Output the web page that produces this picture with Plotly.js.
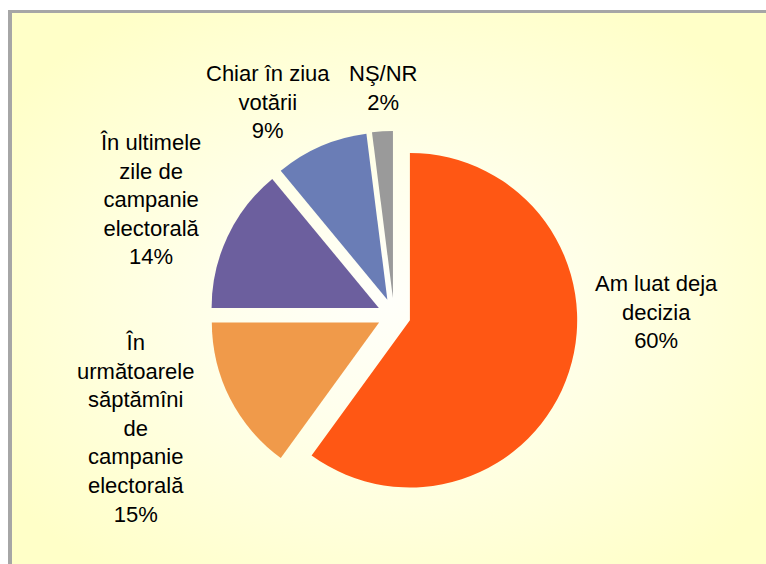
<!DOCTYPE html>
<html>
<head>
<meta charset="utf-8">
<script src="https://cdn.plot.ly/plotly-3.0.1.min.js"></script>
<style>html,body{margin:0;padding:0;background:#fff;}#chart{width:766px;height:564px;}</style>
</head>
<body>
<div id="chart"></div>
<script>
// Data
const labels = [
  "Am luat deja<br>decizia",
  "În<br>următoarele<br>săptămîni<br>de<br>campanie<br>electorală",
  "În ultimele<br>zile de<br>campanie<br>electorală",
  "Chiar în ziua<br>votării",
  "NŞ/NR"
];
const values = [60, 15, 14, 9, 2];
const colors = ["#FF5714", "#F09A4A", "#6C5F9E", "#6A7DB6", "#9A9A9A"];

// label block centres (layout, px)
const labelPos = [[656, 312], [135, 428], [150, 199], [268, 102], [383, 88]];

const W = 766, H = 564;
const px = x => x / W, py = y => 1 - y / H;

const grad = '<svg xmlns="http://www.w3.org/2000/svg" width="754" height="551" viewBox="0 0 754 551" preserveAspectRatio="none">' +
  '<defs><radialGradient id="g" cx="0.5" cy="0.52" r="0.62">' +
  '<stop offset="0" stop-color="#FFFFFA"/><stop offset="0.35" stop-color="#FFFFEC"/><stop offset="1" stop-color="#FFFFC8"/>' +
  '</radialGradient></defs><rect width="754" height="551" fill="url(#g)"/></svg>';

const trace = {
  type: "pie",
  labels: labels,
  values: values,
  sort: false,
  direction: "clockwise",
  rotation: 0,
  pull: values.map(() => 0.1),
  marker: {colors: colors, line: {width: 0}},
  textinfo: "none",
  hoverinfo: "skip",
  showlegend: false,
  domain: {x: [px(210), px(578)], y: [py(499), py(131)]}
};

const annotations = labels.map((l, i) => ({
  text: l + "<br>" + values[i] + "%",
  xref: "paper", yref: "paper",
  x: px(labelPos[i][0]), y: py(labelPos[i][1]),
  xanchor: "center", yanchor: "middle",
  showarrow: false, align: "center",
  font: {family: "Liberation Sans, Arial, sans-serif", size: 22, color: "#000"}
}));

const layout = {
  width: W, height: H,
  margin: {l: 0, r: 0, t: 0, b: 0},
  paper_bgcolor: "#FFFFFF",
  showlegend: false,
  images: [{
    source: "data:image/svg+xml;charset=utf-8," + encodeURIComponent(grad),
    xref: "paper", yref: "paper",
    x: px(12), y: py(13), sizex: px(766) - px(12), sizey: 551 / H,
    xanchor: "left", yanchor: "top", sizing: "stretch", layer: "below"
  }],
  shapes: [
    {type: "rect", xref: "paper", yref: "paper", x0: px(8), x1: px(12), y0: py(564), y1: py(10), fillcolor: "#A6A6A6", line: {width: 0}, layer: "below"},
    {type: "rect", xref: "paper", yref: "paper", x0: px(8), x1: px(766), y0: py(13), y1: py(10), fillcolor: "#A6A6A6", line: {width: 0}, layer: "below"}
  ],
  annotations: annotations
};

Plotly.newPlot("chart", [trace], layout, {staticPlot: true, displayModeBar: false});
</script>
</body>
</html>
